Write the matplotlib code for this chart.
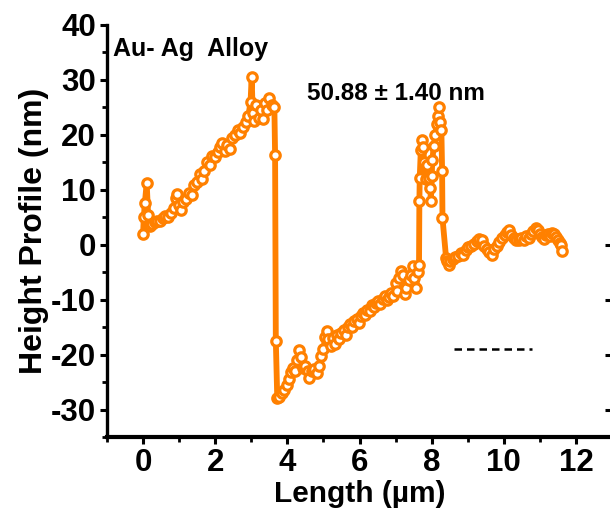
import matplotlib
matplotlib.use("Agg")
import matplotlib.pyplot as plt
from matplotlib.ticker import MultipleLocator, FixedLocator

plt.rcParams['font.family'] = ['Liberation Sans', 'DejaVu Sans']
plt.rcParams['font.weight'] = 'bold'
plt.rcParams['axes.unicode_minus'] = False

# AFM line profile across the Au-Ag alloy film
length_um = [
    0.00, 0.02, 0.05, 0.10, 0.14, 0.18, 0.25, 0.32, 0.40, 0.48, 0.55, 0.62,
    0.70, 0.78, 0.85, 0.90, 0.95, 1.00, 1.05, 1.12, 1.20, 1.28, 1.35, 1.42,
    1.50, 1.57, 1.63, 1.70, 1.78, 1.85, 1.92, 2.00, 2.07, 2.13, 2.20, 2.27,
    2.33, 2.40, 2.47, 2.55, 2.62, 2.70, 2.78, 2.85, 2.92, 2.98, 3.01, 3.04,
    3.08, 3.14, 3.20, 3.26, 3.32, 3.38, 3.44, 3.50, 3.58, 3.64, 3.66, 3.68,
    3.72, 3.78, 3.85, 3.92, 3.98, 4.04, 4.10, 4.16, 4.22, 4.28, 4.33, 4.38,
    4.43, 4.50, 4.56, 4.61, 4.67, 4.74, 4.81, 4.88, 4.94, 5.00, 5.05, 5.09,
    5.14, 5.20, 5.26, 5.31, 5.37, 5.43, 5.50, 5.56, 5.62, 5.68, 5.74, 5.80,
    5.86, 5.92, 5.98, 6.04, 6.10, 6.16, 6.22, 6.28, 6.34, 6.40, 6.46, 6.52,
    6.58, 6.64, 6.70, 6.76, 6.82, 6.88, 6.94, 7.00, 7.05, 7.10, 7.15, 7.20,
    7.25, 7.30, 7.36, 7.42, 7.47, 7.52, 7.57, 7.62, 7.65, 7.66, 7.67, 7.70,
    7.73, 7.76, 7.80, 7.84, 7.88, 7.92, 7.96, 7.98, 8.00, 8.02, 8.06, 8.10,
    8.14, 8.18, 8.20, 8.24, 8.27, 8.29, 8.30, 8.40, 8.43, 8.48, 8.52, 8.58,
    8.65, 8.72, 8.80, 8.87, 8.95, 9.02, 9.10, 9.18, 9.25, 9.32, 9.39, 9.46,
    9.53, 9.60, 9.67, 9.74, 9.81, 9.88, 9.95, 10.02, 10.08, 10.14, 10.20,
    10.27, 10.34, 10.41, 10.48, 10.55, 10.62, 10.69, 10.76, 10.82, 10.88,
    10.94, 11.00, 11.06, 11.12, 11.16, 11.22, 11.28, 11.34, 11.38, 11.44,
    11.50, 11.55, 11.58, 11.60,
]
height_nm = [
    2.0, 5.0, 7.6, 11.2, 5.5, 3.5, 3.8, 4.1, 4.4, 4.3, 4.9, 5.2,
    5.0, 5.8, 6.7, 8.5, 9.3, 7.2, 6.3, 7.8, 8.3, 9.5, 9.0, 10.8,
    11.5, 12.8, 12.0, 13.5, 15.0, 14.6, 16.2, 16.0, 16.8, 17.8, 18.5, 17.0,
    18.2, 17.5, 19.5, 20.0, 20.8, 20.3, 21.5, 22.3, 23.5, 26.0, 30.5, 24.0,
    22.5, 25.5, 23.0, 24.5, 22.8, 25.8, 24.6, 26.8, 25.5, 25.0, 16.4, -17.5,
    -27.9, -27.8, -27.0, -26.5, -25.5, -24.5, -23.2, -22.4, -23.0, -21.0, -19.2, -20.4,
    -22.4, -22.0, -23.0, -24.2, -23.0, -22.6, -23.3, -22.0, -20.3, -19.0, -16.8, -15.7,
    -17.2, -18.4, -17.0, -18.0, -16.5, -17.2, -16.0, -15.6, -16.4, -15.0, -14.4, -15.0,
    -13.9, -13.5, -14.2, -13.0, -12.4, -12.8, -11.8, -12.0, -11.0, -11.4, -10.6, -10.2,
    -10.8, -9.8, -9.4, -10.0, -9.5, -8.8, -9.4, -7.0, -8.4, -6.0, -4.7, -5.6,
    -9.0, -7.8, -6.5, -5.5, -3.8, -6.0, -7.8, -5.0, -3.6, 8.0, 12.2, 17.3,
    19.0, 17.8, 15.0, 12.0, 14.5, 12.2, 10.4, 8.0, 12.5, 15.5, 18.0, 20.0,
    22.0, 23.5, 25.0, 22.3, 20.8, 13.5, 4.9, -2.4, -2.9, -3.6, -3.0, -2.6,
    -2.2, -2.0, -1.5, -1.8, -0.9, -0.5, -0.2, 0.2, 0.6, 1.0, 0.9, -0.2,
    -0.8, -1.4, -1.8, -0.8, -0.2, 0.5, 1.2, 1.8, 2.3, 2.7, 1.8,
    1.2, 0.8, 0.9, 1.2, 0.8, 1.6, 1.3, 2.0, 2.5, 3.1,
    2.6, 2.0, 1.4, 1.0, 1.8, 2.0, 1.6, 2.2, 2.0, 1.4,
    0.8, 0.4, 0.0, -1.1,
]

# dashed reference line
ref_x = [8.62, 10.77]
ref_y = [-19.0, -19.0]

right_ticks = [-30, -20, -10, 0]

sample_label = "Au- Ag  Alloy"
thickness_label = "50.88 \u00b1 1.40 nm"

orange = '#FF8000'

fig = plt.figure(figsize=(6.10, 5.15), dpi=100)
ax = fig.add_axes([107 / 610, 78 / 515, 505 / 610, 412 / 515])

ax.plot(length_um, height_nm, color=orange, lw=4.2, marker='o', ms=6.8,
        mfc='white', mec=orange, mew=2.3, zorder=3)
ax.plot(ref_x, ref_y, color='black', lw=1.8, ls=(0, (3, 2)), zorder=2)

ax.set_xlim(-1, 13)
ax.set_ylim(-35, 40)
ax.xaxis.set_major_locator(MultipleLocator(2))
ax.xaxis.set_minor_locator(MultipleLocator(1))
ax.yaxis.set_major_locator(MultipleLocator(10))
ax.yaxis.set_minor_locator(MultipleLocator(5))

ax.spines['left'].set_linewidth(2.4)
ax.spines['bottom'].set_linewidth(3.0)
ax.spines['right'].set_linewidth(2.4)
ax.spines['top'].set_visible(False)

ax.tick_params(axis='both', which='major', direction='out', length=5, width=2.2,
               labelsize=22.5, pad=3)
ax.tick_params(axis='both', which='minor', direction='out', length=3.5, width=2.0)

# inward ticks on the right-hand frame
sec = ax.secondary_yaxis('right')
sec.yaxis.set_major_locator(FixedLocator(right_ticks))
sec.tick_params(axis='y', which='major', direction='in', length=5, width=2.2,
                labelright=False)
sec.spines['right'].set_linewidth(2.4)

for lab in ax.get_xticklabels() + ax.get_yticklabels():
    lab.set_fontweight('bold')

ax.set_xlabel("Length (\u00b5m)", fontsize=21.5, fontweight='bold', labelpad=1)
ax.set_ylabel("Height Profile (nm)", fontsize=23, fontweight='bold', labelpad=1)

ax.text(-0.83, 35.6, sample_label, fontsize=18, fontweight='bold', va='center', ha='left')
ax.text(4.55, 27.5, thickness_label, fontsize=17.5, fontweight='bold', va='center', ha='left')

fig.savefig('out.png', dpi=100)
